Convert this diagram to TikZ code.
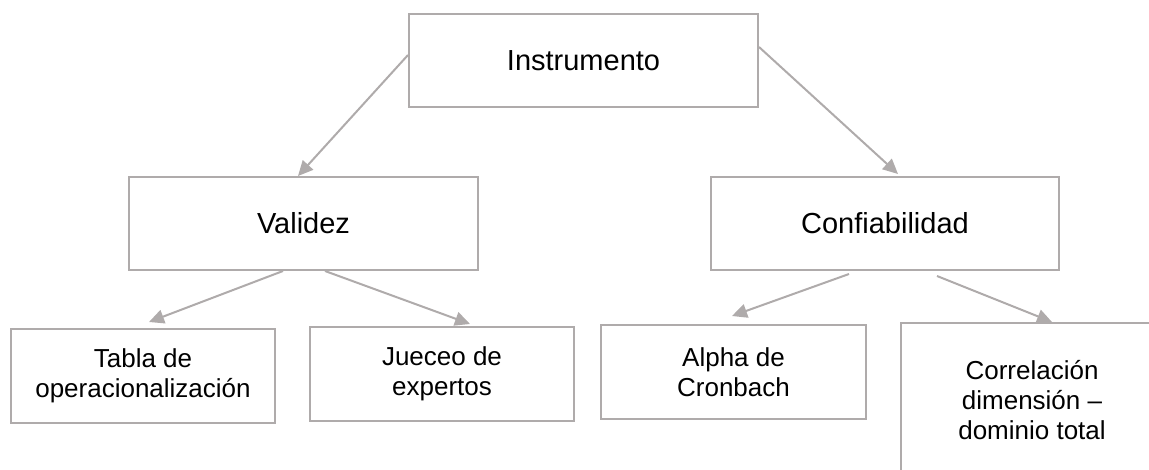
\documentclass[tikz,border=0pt]{standalone}
\usepackage{fontspec}
\setmainfont{Liberation Sans}
\usepackage{tikz}
\usepackage{xcolor}
\usetikzlibrary{arrows}
\usetikzlibrary{arrows.meta}
\usetikzlibrary{shapes}
\definecolor{boxgray}{RGB}{175,171,171}
\begin{document}
\begin{tikzpicture}[x=0.5pt,y=-0.5pt,
  box/.style={draw=boxgray,line width=1pt,fill=white,align=center,inner sep=0pt},
  big/.style={box,font=\fontsize{14.5}{17}\selectfont},
  small/.style={box,font=\fontsize{13}{15}\selectfont},
  link/.style={draw=boxgray,line width=1pt,-{Triangle[length=7.5pt,width=7pt]}}]
\useasboundingbox (0,0) rectangle (1149,470);
\node[big,minimum width=174.5pt,minimum height=46.5pt] (instr) at (583.5,60.5) {Instrumento};
\node[big,minimum width=174.5pt,minimum height=46.5pt] (valid) at (303.5,223.5) {Validez};
\node[big,minimum width=174pt,minimum height=46.5pt] (confi) at (885,223.5) {Confiabilidad};
\node[small,minimum width=132pt,minimum height=47pt] (tabla) at (143,376) {Tabla de\\operacionalización};
\node[small,minimum width=132pt,minimum height=47pt] (jueceo) at (442,374) {Jueceo de\\expertos};
\node[small,minimum width=132.5pt,minimum height=47pt] (alpha) at (733.5,372) {Alpha de\\Cronbach};
\node[small,minimum width=131pt,minimum height=77pt] (correl) at (1032,400) {Correlación\\dimensión --\\dominio total};
\draw[link] ([yshift=2.75pt]instr.west) -- ([xshift=-2.75pt]valid.north);
\draw[link] ([yshift=6.75pt]instr.east) -- ([xshift=6.5pt,yshift=1pt]confi.north);
\draw[link] ([xshift=-10.25pt]valid.south) -- ([xshift=3pt,yshift=3pt]tabla.north);
\draw[link] ([xshift=10.75pt]valid.south) -- ([xshift=14pt,yshift=1pt]jueceo.north);
\draw[link] ([xshift=-18pt,yshift=-1.5pt]confi.south) -- ([xshift=-0.75pt,yshift=4pt]alpha.north);
\draw[link] ([xshift=26pt,yshift=-2.5pt]confi.south) -- ([xshift=10pt]correl.north);
\end{tikzpicture}
\end{document}
